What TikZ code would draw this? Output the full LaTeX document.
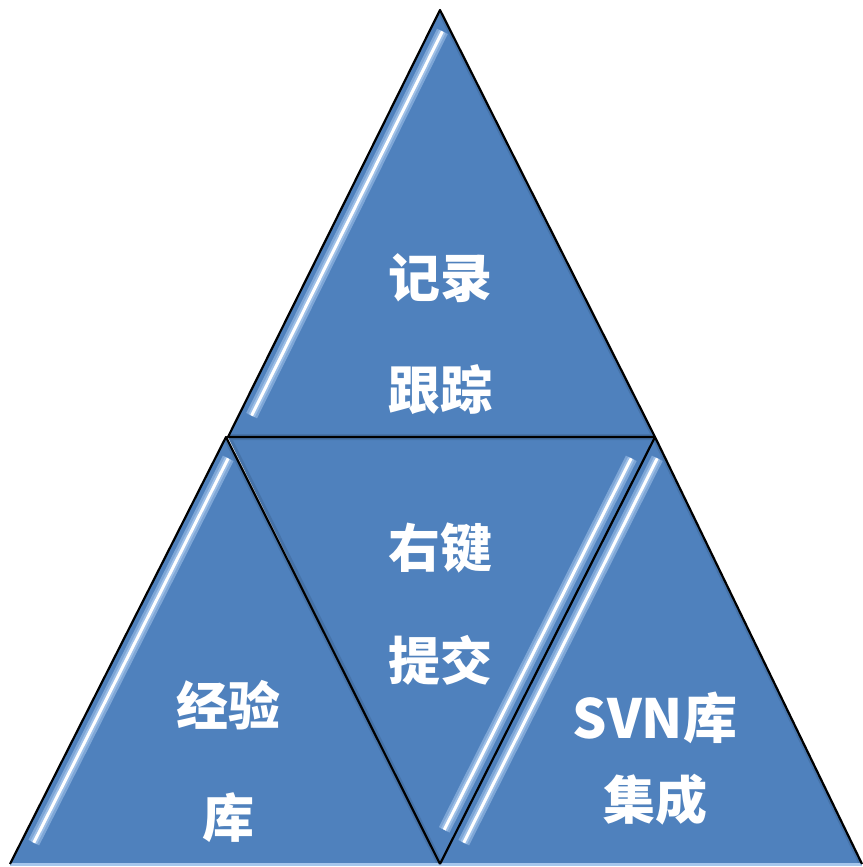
\documentclass[tikz,border=0pt]{standalone}
\usepackage{fontspec}
\usetikzlibrary{calc}
\newfontfamily\cjk{Noto Sans CJK SC}
\definecolor{triblue}{RGB}{79,129,189}
\definecolor{edgeblue}{RGB}{165,198,236}
\begin{document}
\begin{tikzpicture}[x=1pt,y=-1pt,
  tri/.style={fill=triblue},
  edge/.style={draw=black,line width=2.2pt,line join=round},
  glow/.style={draw=edgeblue,line width=12pt,opacity=0.55,line cap=butt},
  glowb/.style={draw=edgeblue,line width=7pt,opacity=0.8,line cap=butt},
  shine/.style={draw=white,line width=3pt,line cap=butt},
  shade/.style={draw=triblue!70!black,line width=6pt,opacity=0.35},
  lbl/.style={text=white,font=\cjk\bfseries\fontsize{52}{52}\selectfont,inner sep=0pt,anchor=center}]
\useasboundingbox (0,0) rectangle (862,867);
\coordinate (t1a) at (440,10);
\coordinate (t1b) at (228,437);
\coordinate (t1c) at (655,437);
\coordinate (t2a) at (226,437);
\coordinate (t2b) at (10,864);
\coordinate (t2c) at (440,864);
\coordinate (t4a) at (655,437);
\coordinate (t4b) at (440,864);
\coordinate (t4c) at (862,864);
% fills
\fill[tri] (t1a) -- (t1b) -- (t1c) -- cycle;
\fill[tri] (t2a) -- (t2b) -- (t2c) -- cycle;
\fill[tri] (t1b) -- (t1c) -- (t2c) -- cycle;
\fill[tri] (t4a) -- (t4b) -- (t4c) -- cycle;
% soft shading and highlights
\begin{scope}
\clip (t1a) -- (t1b) -- (t1c) -- cycle;
\draw[shade] (t1a) -- (t1c) -- (t1b);
\draw[glow] ([xshift=13]$(t1a)!0.05!(t1b)$) -- ([xshift=13]$(t1a)!0.95!(t1b)$);
\draw[glowb] ([xshift=13]$(t1a)!0.05!(t1b)$) -- ([xshift=13]$(t1a)!0.95!(t1b)$);
\draw[shine] ([xshift=13]$(t1a)!0.05!(t1b)$) -- ([xshift=13]$(t1a)!0.95!(t1b)$);
\end{scope}
\begin{scope}
\clip (t2a) -- (t2b) -- (t2c) -- cycle;
\draw[shade] (t2a) -- (t2c);
\draw[glow] ([xshift=13]$(t2a)!0.05!(t2b)$) -- ([xshift=13]$(t2a)!0.95!(t2b)$);
\draw[glowb] ([xshift=13]$(t2a)!0.05!(t2b)$) -- ([xshift=13]$(t2a)!0.95!(t2b)$);
\draw[shine] ([xshift=13]$(t2a)!0.05!(t2b)$) -- ([xshift=13]$(t2a)!0.95!(t2b)$);
\end{scope}
\begin{scope}
\clip (t1b) -- (t1c) -- (t2c) -- cycle;
\draw[shade] (t1c) -- (t1b) -- (t2c);
\draw[glow] ([xshift=-13]$(t1c)!0.05!(t2c)$) -- ([xshift=-13]$(t1c)!0.92!(t2c)$);
\draw[glowb] ([xshift=-13]$(t1c)!0.05!(t2c)$) -- ([xshift=-13]$(t1c)!0.92!(t2c)$);
\draw[shine] ([xshift=-13]$(t1c)!0.05!(t2c)$) -- ([xshift=-13]$(t1c)!0.92!(t2c)$);
\end{scope}
\begin{scope}
\clip (t4a) -- (t4b) -- (t4c) -- cycle;
\draw[shade] (t4a) -- (t4c);
\draw[glow] ([xshift=13]$(t4a)!0.05!(t4b)$) -- ([xshift=13]$(t4a)!0.95!(t4b)$);
\draw[glowb] ([xshift=13]$(t4a)!0.05!(t4b)$) -- ([xshift=13]$(t4a)!0.95!(t4b)$);
\draw[shine] ([xshift=13]$(t4a)!0.05!(t4b)$) -- ([xshift=13]$(t4a)!0.95!(t4b)$);
\end{scope}
% bottom light line
\draw[edgeblue,line width=3pt] (t2b) -- (t4c);
% outlines
\draw[edge] (t1b) -- (t1a) -- (t1c) -- cycle;
\draw[edge] (t2b) -- (t2a) -- (t2c);
\draw[edge] (t4b) -- (t4a) -- (t4c);
% labels
\node[lbl] (l1) at (440,278) {记录};
\node[lbl] (l2) at (440,390) {跟踪};
\node[lbl] (l3) at (440,548) {右键};
\node[lbl] (l4) at (440,660) {提交};
\node[lbl] (l5) at (228,705) {经验};
\node[lbl] (l6) at (228,818) {库};
\node[lbl,font=\cjk\bfseries\fontsize{54}{54}\selectfont] (l7) at (655,718) {SVN库};
\node[lbl] (l8) at (655,800) {集成};
\end{tikzpicture}
\end{document}
